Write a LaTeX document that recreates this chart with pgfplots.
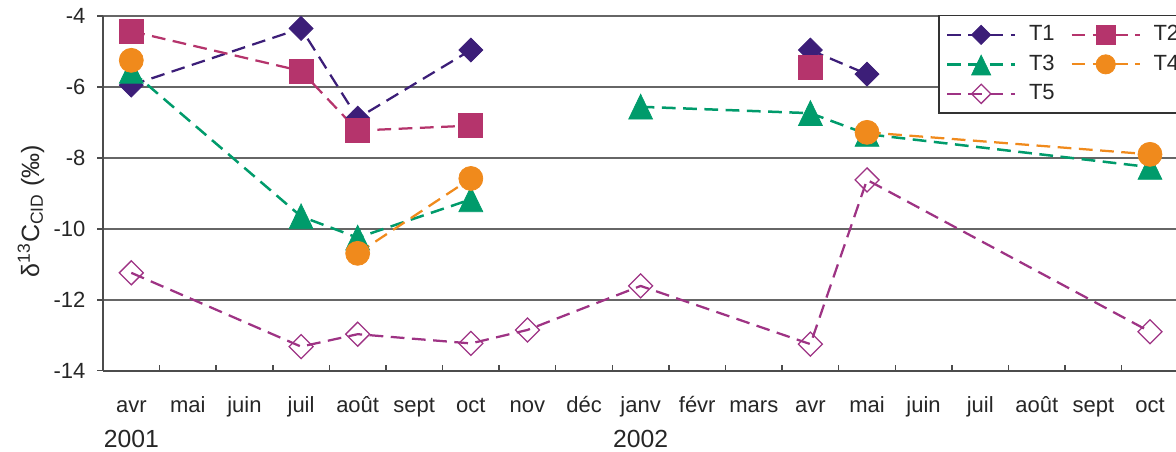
\documentclass[border=0pt]{standalone}
\usepackage{fontspec}
\setmainfont{Liberation Sans}
\usepackage{pgfplots}
\pgfplotsset{compat=1.18}
\definecolor{cA}{RGB}{60,30,120}
\definecolor{cB}{RGB}{181,52,108}
\definecolor{cC}{RGB}{0,155,107}
\definecolor{cD}{RGB}{240,138,28}
\definecolor{cE}{RGB}{158,51,132}
\begin{document}
\begin{tikzpicture}
\begin{axis}[
  scale only axis, width=429.2pt, height=141.9pt,
  xmin=-0.5, xmax=18.46, ymin=-14, ymax=-4,
  unbounded coords=jump,
  axis x line=bottom, axis y line=left,
  axis line style={-, draw=black!70, line width=0.7pt},
  tick align=inside,
  major tick length=2.4pt,
  every tick/.style={black!70, line width=0.6pt},
  xtick={-0.5,0.5,...,17.5},
  xticklabels={avr,mai,juin,juil,août,sept,oct,nov,déc,janv,févr,mars,avr,mai,juin,juil,août,sept,oct},
  xticklabel style={anchor=base, xshift=11.32pt, yshift=-16.9pt, font=\fontsize{8.8}{10}\selectfont, text=black!85},
  ytick={-14,-12,...,-4},
  ymajorgrids, grid style={black!60, line width=0.6pt},
  ytick style={xshift=-2.4pt},
  yticklabel style={font=\fontsize{8.8}{10}\selectfont, text=black!85, xshift=-3.5pt},
  /pgf/number format/assume math mode=true,
  ylabel={δ\textsuperscript{13}C\textsubscript{CID} (‰)},
  ylabel style={at={(axis description cs:-0.0671,0.45)}, anchor=center, font=\fontsize{10}{12}\selectfont, text=black!85},
  legend columns=2,
  legend cell align=left,
  legend style={at={(axis description cs:0.7782,1.0028)}, anchor=north west, draw=black!80, line width=0.6pt, fill=white,
    font=\fontsize{8.8}{10}\selectfont, text=black!85, inner xsep=2.8pt, inner ysep=2pt, row sep=0.5pt,
    nodes={inner sep=1.5pt, text height=6.5pt, text depth=1.8pt},
    /tikz/every even column/.append style={column sep=4.8pt},
    /tikz/every odd column/.append style={column sep=3.5pt}},
  legend image code/.code={
    \draw[mark repeat=2, mark phase=2, every mark/.append style={scale=0.8}] plot coordinates {(0cm,0cm) (0.48cm,0cm) (0.96cm,0cm)};
  },
]
\addplot[color=cA, line width=0.9pt, dash pattern=on 5.5pt off 3pt, mark=diamond*, mark size=4.8pt,
  mark options={solid, fill=cA, line width=0.3pt, xscale=1.333}]
  coordinates {(0,-5.95) (3,-4.35) (4,-6.88) (6,-4.96) (9,nan) (12,-4.96) (13,-5.64)};
\addlegendentry{T1}
\addplot[color=cB, line width=0.9pt, dash pattern=on 5.5pt off 3pt, mark=square*, mark size=4.8pt,
  mark options={solid, fill=cB, line width=0.3pt}]
  coordinates {(0,-4.43) (3,-5.55) (4,-7.23) (6,-7.09) (9,nan) (12,-5.45)};
\addlegendentry{T2}
\addplot[color=cC, line width=1pt, dash pattern=on 5.5pt off 3pt, mark=triangle*, mark size=5.5pt,
  mark options={solid, fill=cC, line width=0.3pt, yshift=-1.6pt, yscale=1.2}]
  coordinates {(0,-5.55) (3,-9.65) (4,-10.25) (6,-9.17) (8,nan) (9,-6.56) (12,-6.74) (13,-7.33) (18,-8.26)};
\addlegendentry{T3}
\addplot[color=cD, line width=0.9pt, dash pattern=on 5.5pt off 3pt, mark=*, mark size=4.8pt,
  mark options={solid, fill=cD, line width=0.3pt}]
  coordinates {(0,-5.25) (2,nan) (4,-10.69) (6,-8.58) (9,nan) (13,-7.28) (18,-7.9)};
\addlegendentry{T4}
\addplot[color=cE, line width=0.9pt, dash pattern=on 5.5pt off 3pt, mark=diamond, mark size=4.8pt,
  mark options={solid, draw=cE, line width=0.5pt, xscale=1.333}]
  coordinates {(0,-11.24) (3,-13.32) (4,-12.97) (6,-13.23) (7,-12.85) (9,-11.61) (12,-13.25) (13,-8.62) (18,-12.9)};
\addlegendentry{T5}
\coordinate (SW) at (rel axis cs:0,0);
\coordinate (NE) at (rel axis cs:1,1);
\coordinate (Ya) at (axis cs:0,-14);
\coordinate (Yb) at (axis cs:9,-14);
\end{axis}
\node[anchor=base, font=\fontsize{9.9}{11}\selectfont, text=black!85, yshift=-30.9pt] at (Ya) {2001};
\node[anchor=base, font=\fontsize{9.9}{11}\selectfont, text=black!85, yshift=-30.9pt] at (Yb) {2002};
\pgfresetboundingbox
\path[use as bounding box] ([xshift=-41.2pt,yshift=-32.5pt]SW) rectangle ([yshift=6.4pt]NE);
\end{tikzpicture}
\end{document}
